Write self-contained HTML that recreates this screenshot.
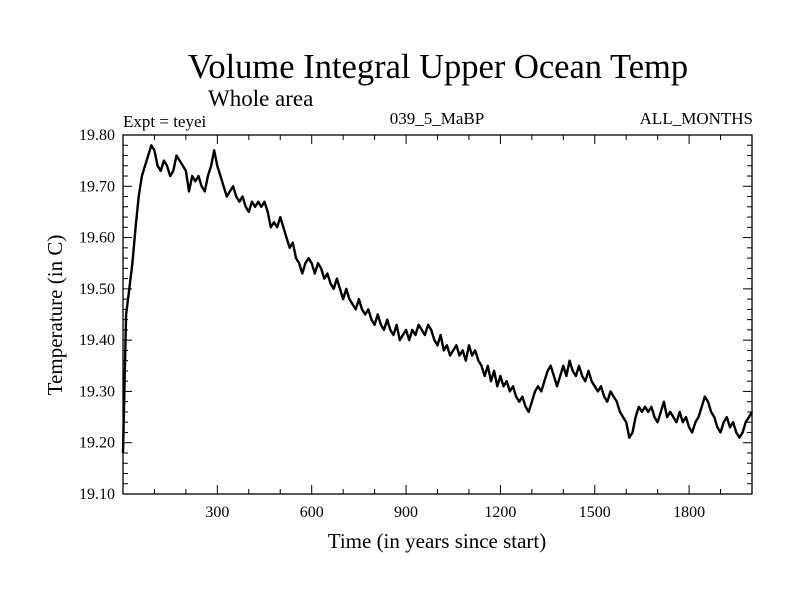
<!DOCTYPE html>
<html><head><meta charset="utf-8"><style>
body{margin:0;background:#fff}
svg{display:block;font-family:"Liberation Serif",serif}
</style></head><body>
<svg id="c" width="800" height="600" xmlns="http://www.w3.org/2000/svg">
<rect width="800" height="600" fill="#fff"/>
<text x="438" y="78" font-size="34.5" text-anchor="middle">Volume Integral Upper Ocean Temp</text>
<text x="208" y="106" font-size="23">Whole area</text>
<text x="123" y="127" font-size="17">Expt = teyei</text>
<text x="437" y="124" font-size="17" text-anchor="middle">039_5_MaBP</text>
<text x="753" y="124" font-size="17" text-anchor="end">ALL_MONTHS</text>
<text x="437" y="548" font-size="21" text-anchor="middle">Time (in years since start)</text>
<text transform="translate(62,315) rotate(-90)" font-size="21" text-anchor="middle">Temperature (in C)</text>
<g id="axes"></g>
<path id="line" fill="none" stroke="#000" stroke-width="2.4" stroke-linejoin="round"/>
<rect x="123" y="135" width="629" height="359" fill="none" stroke="#000" stroke-width="1.3"/>
</svg>
<script>
const years = Array.from({length:201},(_,i)=>i*10);
const temps = [19.18,19.45,19.50,19.55,19.62,19.68,19.72,19.74,19.76,19.78,19.77,19.74,19.73,19.75,19.74,19.72,19.73,19.76,19.75,19.74,
19.73,19.69,19.72,19.71,19.72,19.70,19.69,19.72,19.74,19.77,19.74,19.72,19.70,19.68,19.69,19.70,19.68,19.67,19.68,19.66,
19.65,19.67,19.66,19.67,19.66,19.67,19.65,19.62,19.63,19.62,19.64,19.62,19.60,19.58,19.59,19.56,19.55,19.53,19.55,19.56,
19.55,19.53,19.55,19.54,19.52,19.53,19.51,19.50,19.52,19.50,19.48,19.50,19.48,19.47,19.46,19.48,19.46,19.45,19.46,19.44,
19.43,19.45,19.43,19.42,19.44,19.42,19.41,19.43,19.40,19.41,19.42,19.40,19.42,19.41,19.43,19.42,19.41,19.43,19.42,19.40,
19.39,19.41,19.38,19.39,19.37,19.38,19.39,19.37,19.38,19.36,19.39,19.37,19.38,19.36,19.35,19.33,19.35,19.32,19.34,19.31,
19.33,19.31,19.32,19.30,19.31,19.29,19.28,19.29,19.27,19.26,19.28,19.30,19.31,19.30,19.32,19.34,19.35,19.33,19.31,19.33,
19.35,19.33,19.36,19.34,19.33,19.35,19.33,19.32,19.34,19.32,19.31,19.30,19.31,19.29,19.28,19.30,19.29,19.28,19.26,19.25,
19.24,19.21,19.22,19.25,19.27,19.26,19.27,19.26,19.27,19.25,19.24,19.26,19.28,19.25,19.26,19.25,19.24,19.26,19.24,19.25,
19.23,19.22,19.24,19.25,19.27,19.29,19.28,19.26,19.25,19.23,19.22,19.24,19.25,19.23,19.24,19.22,19.21,19.22,19.24,19.25,19.26];
const xTickLabels = [300,600,900,1200,1500,1800];
const yTickLabels = ["19.10","19.20","19.30","19.40","19.50","19.60","19.70","19.80"];
const X0=123,X1=752,Y0=494,Y1=135,XMIN=0,XMAX=2000,YMIN=19.1,YMAX=19.8;
const sx=v=>X0+(v-XMIN)/(XMAX-XMIN)*(X1-X0);
const sy=v=>Y0-(v-YMIN)/(YMAX-YMIN)*(Y0-Y1);
const NS="http://www.w3.org/2000/svg";
const ax=document.getElementById('axes');
function mk(tag,attrs){const e=document.createElementNS(NS,tag);for(const k in attrs)e.setAttribute(k,attrs[k]);ax.appendChild(e);return e;}
for(let v=100;v<2000;v+=100){
  const major=v%300===0, L=major?9:5, x=sx(v);
  const t=mk('line',{x1:x,x2:x,y1:Y0,y2:Y0-L,stroke:'#000','stroke-width':1});
  
  
  const t2=mk('line',{x1:x,x2:x,y1:Y1,y2:Y1+L,stroke:'#000','stroke-width':1});
  
  
}
xTickLabels.forEach(v=>{
  const t=mk('text',{x:sx(v),y:Y0+23,'font-size':16,'text-anchor':'middle'});
  t.textContent=v;
  
  
});
for(let i=1;i<35;i++){
  const v=YMIN+i*0.02, major=i%5===0, L=major?9:5, y=sy(v);
  const t=mk('line',{x1:X0,x2:X0+L,y1:y,y2:y,stroke:'#000','stroke-width':1});
  
  
  const t2=mk('line',{x1:X1,x2:X1-L,y1:y,y2:y,stroke:'#000','stroke-width':1});
  
  
}
yTickLabels.forEach(s=>{
  const t=mk('text',{x:X0-8,y:sy(parseFloat(s))+5,'font-size':16,'text-anchor':'end'});
  t.textContent=s;
  
  
});
document.getElementById('line').setAttribute('d',temps.map((t,i)=>(i?'L':'M')+sx(years[i]).toFixed(1)+','+sy(t).toFixed(1)).join(''));
</script>
</body></html>
